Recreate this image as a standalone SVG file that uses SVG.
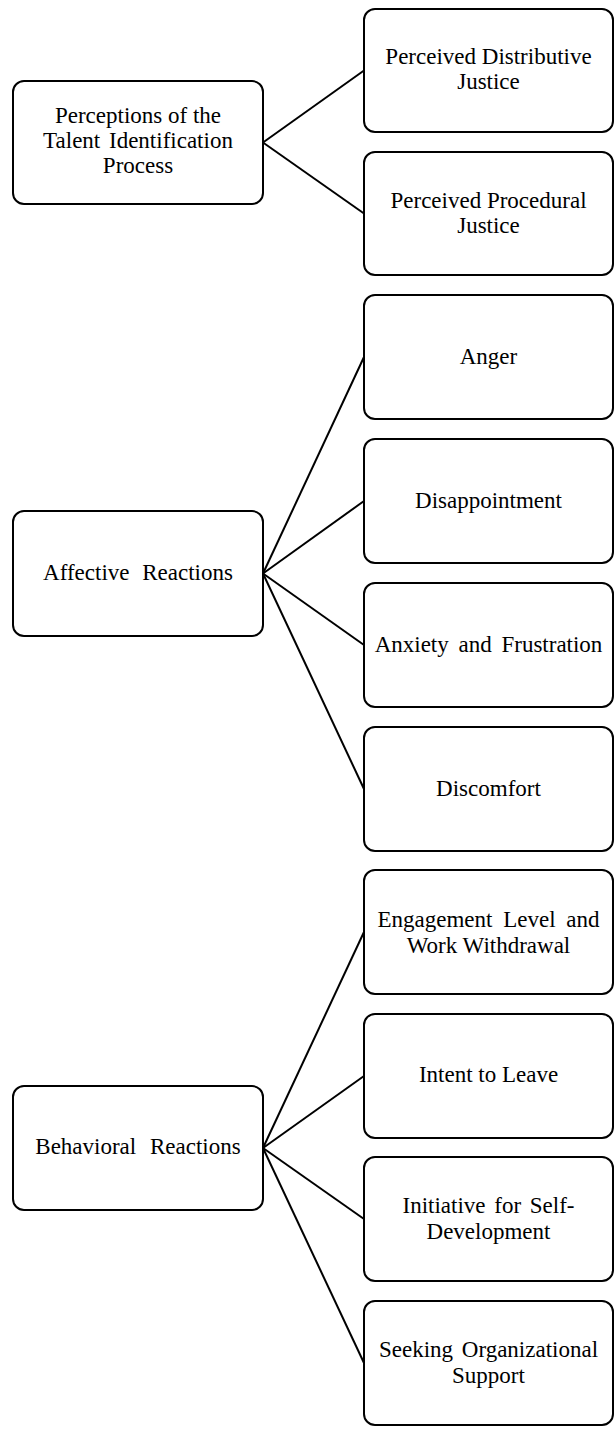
<svg xmlns="http://www.w3.org/2000/svg" width="616" height="1432" viewBox="0 0 616 1432">
<style>
.box{fill:#fff;stroke:#000;stroke-width:2}
.t{font-family:"Liberation Serif","Times New Roman",serif;font-size:23px;fill:#000;text-anchor:middle}
.c{stroke:#000;stroke-width:2;fill:none}
</style>
<rect width="616" height="1432" fill="#fff"/>
<g id="connectors">
<line class="c" x1="263" y1="142.5" x2="364" y2="70.5"/>
<line class="c" x1="263" y1="142.5" x2="364" y2="213.5"/>
<line class="c" x1="263" y1="573.5" x2="364" y2="357"/>
<line class="c" x1="263" y1="573.5" x2="364" y2="501"/>
<line class="c" x1="263" y1="573.5" x2="364" y2="645"/>
<line class="c" x1="263" y1="573.5" x2="364" y2="789"/>
<line class="c" x1="263" y1="1148" x2="364" y2="932"/>
<line class="c" x1="263" y1="1148" x2="364" y2="1076"/>
<line class="c" x1="263" y1="1148" x2="364" y2="1219"/>
<line class="c" x1="263" y1="1148" x2="364" y2="1363"/>
</g>
<g id="perceptions">
<rect class="box" x="13" y="81" width="250" height="123" rx="11"/>
<text class="t" x="138" y="123">Perceptions of the</text>
<text class="t" x="138" y="148" word-spacing="3">Talent Identification</text>
<text class="t" x="138" y="173">Process</text>
</g>
<g id="distributive">
<rect class="box" x="364" y="9" width="249" height="123" rx="11"/>
<text class="t" x="488.5" y="64">Perceived Distributive</text>
<text class="t" x="488.5" y="89">Justice</text>
</g>
<g id="procedural">
<rect class="box" x="364" y="152" width="249" height="123" rx="11"/>
<text class="t" x="488.5" y="208">Perceived Procedural</text>
<text class="t" x="488.5" y="233">Justice</text>
</g>
<g id="affective">
<rect class="box" x="13" y="511" width="250" height="125" rx="11"/>
<text class="t" x="138" y="580" word-spacing="7">Affective Reactions</text>
</g>
<g id="anger">
<rect class="box" x="364" y="295" width="249" height="124" rx="11"/>
<text class="t" x="488.5" y="364">Anger</text>
</g>
<g id="disappointment">
<rect class="box" x="364" y="439" width="249" height="124" rx="11"/>
<text class="t" x="488.5" y="508">Disappointment</text>
</g>
<g id="anxiety">
<rect class="box" x="364" y="583" width="249" height="124" rx="11"/>
<text class="t" x="488.5" y="652" word-spacing="4">Anxiety and Frustration</text>
</g>
<g id="discomfort">
<rect class="box" x="364" y="727" width="249" height="124" rx="11"/>
<text class="t" x="488.5" y="796">Discomfort</text>
</g>
<g id="behavioral">
<rect class="box" x="13" y="1086" width="250" height="124" rx="11"/>
<text class="t" x="138" y="1154" word-spacing="8">Behavioral Reactions</text>
</g>
<g id="engagement">
<rect class="box" x="364" y="870" width="249" height="124" rx="11"/>
<text class="t" x="488.5" y="927" word-spacing="5">Engagement Level and</text>
<text class="t" x="488.5" y="953">Work Withdrawal</text>
</g>
<g id="intent">
<rect class="box" x="364" y="1014" width="249" height="124" rx="11"/>
<text class="t" x="488.5" y="1082">Intent to Leave</text>
</g>
<g id="initiative">
<rect class="box" x="364" y="1157" width="249" height="124" rx="11"/>
<text class="t" x="488.5" y="1213" word-spacing="3">Initiative for Self-</text>
<text class="t" x="488.5" y="1239">Development</text>
</g>
<g id="seeking">
<rect class="box" x="364" y="1301" width="249" height="124" rx="11"/>
<text class="t" x="488.5" y="1357" word-spacing="3">Seeking Organizational</text>
<text class="t" x="488.5" y="1383">Support</text>
</g>
</svg>
